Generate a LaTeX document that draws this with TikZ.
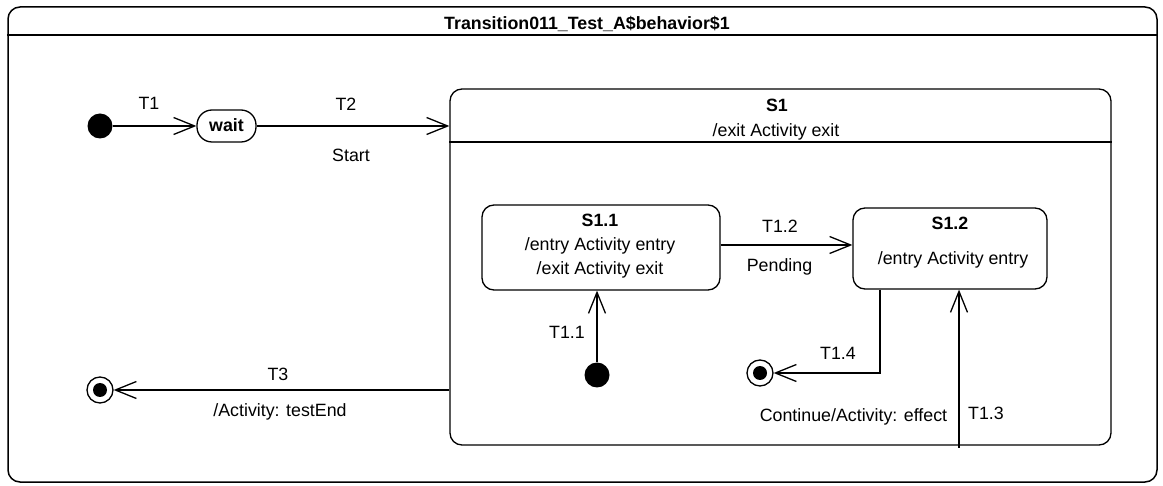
\documentclass[tikz,border=0pt]{standalone}
\usepackage{fontspec}
\setmainfont{Liberation Sans}
\usetikzlibrary{arrows.meta}
\begin{document}
\begin{tikzpicture}[x=1pt,y=-1pt,
  lbl/.style={font=\fontsize{17.8}{21}\selectfont, inner sep=0pt, anchor=base},
  blbl/.style={lbl, font=\fontsize{17.8}{21}\selectfont\bfseries},
  st/.style={draw, rounded corners=12pt, line width=1.3pt, inner sep=0pt},
  init/.style={circle, fill=black, minimum size=25pt, inner sep=0pt},
  fin/.style={circle, draw, line width=1.3pt, minimum size=26pt, inner sep=0pt,
    path picture={\fill (path picture bounding box.center) circle (7pt);}},
  tr/.style={line width=1.3pt, -{Straight Barb[length=21pt,width=17pt,line width=1.3pt]}},
]
\useasboundingbox (0,0) rectangle (1163,486);
% outer frame
\node[st, line width=1.5pt, minimum width=1149pt, minimum height=475pt] (frame) at (582.5,244.5) {};
\coordinate (hdr) at (0,35);
\draw[line width=1.5pt] (frame.west |- hdr) -- (frame.east |- hdr);
\node[blbl] (title) at (587,30) {Transition011\_Test\_A\$behavior\$1};

% top level states
\node[init] (i1) at (100,126) {};
\node[st, rounded corners=15pt, minimum width=59pt, minimum height=32pt] (wait) at (226.5,126) {};
\node[blbl] (waitt) at (226.5,132) {wait};

\node[st, minimum width=661pt, minimum height=356pt] (s1) at (780.5,267) {};
\coordinate (s1h) at (0,142);
\draw[line width=1.3pt] (s1.west |- s1h) -- (s1.east |- s1h);
\node[blbl] (s1t) at (777,112) {S1};
\node[lbl] (s1e) at (776,137) {/exit Activity exit};

\node[fin] (f1) at (100,390) {};

% inner states
\node[st, minimum width=238pt, minimum height=85pt] (s11) at (601,247.5) {};
\node[blbl] (s11t) at (600,227) {S1.1};
\node[lbl] (s11a) at (600,251) {/entry Activity entry};
\node[lbl] (s11b) at (600,275) {/exit Activity exit};

\node[st, minimum width=194pt, minimum height=81pt] (s12) at (950,248.5) {};
\node[blbl] (s12t) at (950,230) {S1.2};
\node[lbl] (s12a) at (953,265) {/entry Activity entry};

\node[init] (i2) at (597,375) {};
\node[fin] (f2) at (760,373) {};

% transitions
\draw[tr] (i1) -- (wait);
\node[lbl] (t1) at (149,110) {T1};

\draw[tr] (wait.east) -- (wait.east -| s1.west);
\node[lbl] (t2) at (346,111) {T2};
\node[lbl] (t2b) at (351,162) {Start};

\draw[tr] (s1.west |- f1) -- (f1);
\node[lbl] (t3) at (278,381) {T3};
\node[lbl] (t3b) at (280,417) {/Activity: testEnd};

\draw[tr] (i2) -- (i2 |- s11.south);
\node[lbl] (t11) at (567,339) {T1.1};

\coordinate (t12y) at (0,245);
\draw[tr] (s11.east |- t12y) -- (s12.west |- t12y);
\node[lbl] (t12) at (780,233) {T1.2};
\node[lbl] (t12b) at (779.5,272) {Pending};

\coordinate (t13s) at (959,448);
\draw[tr] (t13s) -- (t13s |- s12.south);
\node[lbl] (t13) at (986,420) {T1.3};
\node[lbl] (t13b) at (853.5,421) {Continue/Activity: effect};

\coordinate (t14x) at (880,0);
\draw[tr] (s12.south -| t14x) |- (f2);
\node[lbl] (t14) at (838,360) {T1.4};
\end{tikzpicture}
\end{document}
